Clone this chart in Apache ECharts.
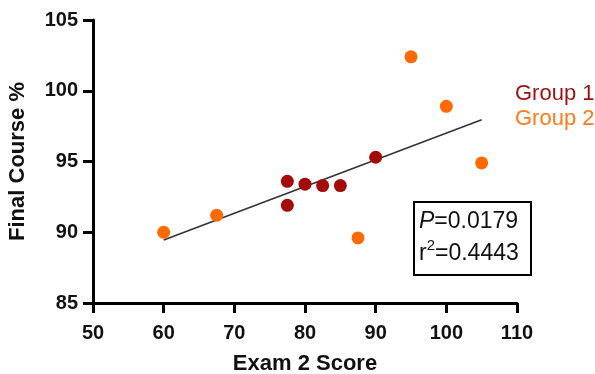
<!DOCTYPE html>
<html>
<head>
<meta charset="utf-8">
<script src="https://cdn.jsdelivr.net/npm/echarts@6/dist/echarts.min.js"></script>
<style>html,body{margin:0;padding:0;background:#fff}#c{width:595px;height:374px}</style>
</head>
<body>
<div id="c"></div>
<script>
const group1 = [[77.5, 93.6], [77.5, 91.9], [80, 93.4], [82.5, 93.3], [85, 93.3], [90, 95.3]];
const group2 = [[60, 90.0], [67.5, 91.2], [87.5, 89.6], [95, 102.4], [100, 98.9], [105, 94.9]];
const fitLine = [[60, 89.45], [105, 97.95]];
const xTicks = [50, 60, 70, 80, 90, 100, 110];
const yTicks = [85, 90, 95, 100, 105];
const statP = '0.0179';
const statR2 = '0.4443';
const seriesNames = ['Group 1', 'Group 2'];

const font = '"Liberation Sans", Arial, sans-serif';
const chart = echarts.init(document.getElementById('c'), null, {renderer: 'canvas'});
function makeAxis(extra) {
  return Object.assign({
    type: 'value',
    axisLine: {show: true, onZero: false, lineStyle: {color: '#000', width: 3}},
    axisTick: {show: true, inside: false, length: 10, lineStyle: {color: '#000', width: 3}},
    splitLine: {show: false},
    nameTextStyle: {color: '#111', fontSize: 22, fontWeight: 'bold', fontFamily: font}
  }, extra);
}
chart.setOption({
  animation: false,
  grid: {left: 93, top: 20, width: 424, height: 283, containLabel: false, outerBoundsMode: 'none'},
  xAxis: makeAxis({
    min: xTicks[0], max: xTicks[xTicks.length - 1], interval: 10,
    name: 'Exam 2 Score', nameLocation: 'middle', nameGap: 50,
    axisLabel: {show: true, color: '#111', fontSize: 20, fontWeight: 'bold', fontFamily: font, margin: 20}
  }),
  yAxis: makeAxis({
    min: yTicks[0], max: yTicks[yTicks.length - 1], interval: 5,
    name: 'Final Course %', nameLocation: 'middle', nameGap: 64,
    axisLabel: {show: true, color: '#111', fontSize: 20, fontWeight: 'bold', fontFamily: font, margin: 15}
  }),
  legend: {
    orient: 'vertical', left: 510, top: 83, padding: 0, itemWidth: 0, itemHeight: 0, itemGap: 3,
    icon: 'none', selectedMode: false,
    data: [
      {name: seriesNames[0], textStyle: {color: '#9b1111'}},
      {name: seriesNames[1], textStyle: {color: '#ff7a1a'}}
    ],
    textStyle: {fontSize: 22, fontFamily: font, padding: 0}
  },
  series: [
    {type: 'line', data: fitLine, showSymbol: false, symbol: 'none', lineStyle: {color: '#333', width: 1.6}, z: 1, silent: true},
    {name: seriesNames[0], type: 'scatter', data: group1, symbolSize: 13, itemStyle: {color: '#a30a0a', opacity: 1}, z: 3},
    {name: seriesNames[1], type: 'scatter', data: group2, symbolSize: 13, itemStyle: {color: '#ff6a00', opacity: 1}, z: 3}
  ],
  graphic: [
    {type: 'rect', left: 413, top: 201, shape: {width: 117, height: 73}, style: {fill: '#fff', stroke: '#000', lineWidth: 2}, z: 10},
    {type: 'text', left: 419, top: 206, z: 11, style: {
      text: '{i|P}=' + statP + '\nr{sup|2}=' + statR2,
      font: '23px ' + font, fill: '#111', lineHeight: 32,
      rich: {
        i: {fontStyle: 'italic', fontSize: 23, fontFamily: font, fill: '#111'},
        sup: {fontSize: 15, fontFamily: font, verticalAlign: 'top', padding: [0, 0, 8, 0], fill: '#111'}
      }
    }}
  ]
});
</script>
</body>
</html>
